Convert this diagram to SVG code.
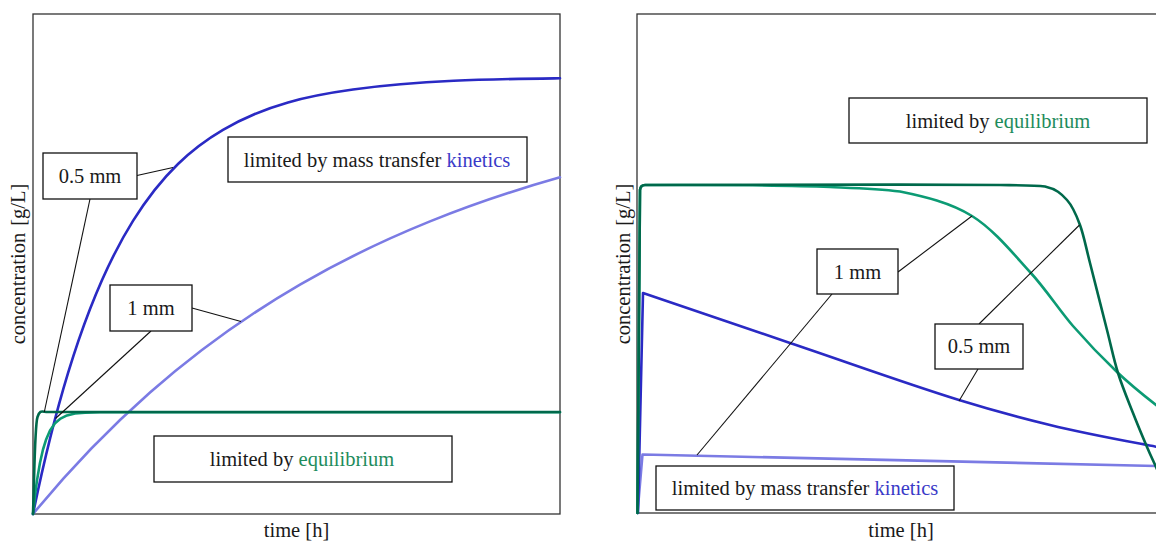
<svg xmlns="http://www.w3.org/2000/svg" width="1156" height="543" viewBox="0 0 1156 543">
<style>
text{font-family:"Liberation Serif","Times New Roman",serif;font-size:20.5px;fill:#1a1a1a}
.frame{fill:none;stroke:#333;stroke-width:1.3}
.box{fill:#fff;stroke:#111;stroke-width:1.3}
.lead{fill:none;stroke:#111;stroke-width:1.1}
.c{fill:none;stroke-width:2.6;stroke-linejoin:round;stroke-linecap:round}
.db{stroke:#2a2ac4}
.lb{stroke:#7b7be4}
.dg{stroke:#00694b}
.mg{stroke:#0c9b74}
.kin{fill:#3a3ac8}
.eq{fill:#1e8c5c}
</style>
<rect width="1156" height="543" fill="#fff"/>

<!-- LEFT PLOT -->
<g id="left-plot">
  <rect class="frame" x="33" y="14" width="527" height="500"/>
  <g id="left-curves">
    <path class="c lb" d="M33,514 C72,466.55 111,426.8 150,392.5 C200,348.55 250,313.6 300,284.6 C343.3,259.5 386.7,238.9 430,221.4 C473.3,203.9 516.7,189.5 560,177.3"/>
    <path class="c db" d="M33,514 C44.67,457.35 56.33,411.6 68,373.2 C89.67,301.9 111.33,255.55 133,220.9 C163,172.9 193,147.5 223,129.9 C266.3,104.4 309.7,95.5 353,89.5 C422,79.9 491,79.2 560,78.25"/>
    <polyline class="c mg" points="33,514 35,495.5 37,480.4 40,462.7 43,449.5 46,439.8 50,430.6 55,423.3 60,418.9 67,415.4 75,413.5 85,412.6 100,412.2 560,412.2"/>
    <path class="c dg" d="M33,514 C34.5,470 34.8,425 37.5,417 S42,412 48,412 L560,412"/>
  </g>
  <text x="296.5" y="537" text-anchor="middle">time [h]</text>
  <text transform="translate(25,264) rotate(-90)" text-anchor="middle">concentration<tspan dx="7">[g/L]</tspan></text>
</g>

<!-- RIGHT PLOT -->
<g id="right-plot">
  <rect class="frame" x="637" y="14" width="528" height="499"/>
  <g id="right-curves">
    <path class="c lb" d="M637.5,513 L642.5,454.5 L1170,466.3"/>
    <path class="c db" d="M638,513 L643,293 C692,309.2 741,326.6 790,343 C846.33,361.9 902.67,382.5 959,400 C989.33,409.4 1019.67,417.6 1050,425 C1085.33,433.7 1120.67,440 1156,446.7 L1170,449"/>
    <path class="c mg" d="M637.5,513 L640,190 Q640.5,185 645,185 C680,185.05 719.17,184.97 750,185.3 C780.83,185.63 805,185.97 830,187 C855,188.03 876.33,188.5 900,191.5 C923.67,196.33 950.33,202.58 972,216 C993.67,229.42 1013.17,253.67 1030,272 C1046.83,290.33 1058.5,309.33 1073,326 C1087.5,342.67 1103.17,358.83 1117,372 C1130.83,385.17 1143,394.83 1156,405 C1169,415.17 1188.5,428.33 1195,433"/>
    <path class="c dg" d="M637.5,513 L640,190 Q640.5,185 645,185 L900,184.6 C960,184.6 985,185 1000,185 C1015,185.25 1034,185.2 1045,186.5 C1056.17,189 1061.17,193.58 1067,200 C1072.83,206.42 1076.17,214.5 1080,225 C1083.83,235.5 1085.5,245.5 1090,263 C1094.5,280.5 1102.33,311.67 1107,330 C1111.67,348.33 1113.67,359.17 1118,373 C1122.33,386.83 1128.17,400.67 1133,413 C1137.83,425.33 1143.17,438 1147,447 C1150.83,456 1153,460.33 1156,467 C1159,473.67 1163.5,483.7 1165,487"/>
  </g>
  <text x="901" y="537" text-anchor="middle">time [h]</text>
  <text transform="translate(630,264) rotate(-90)" text-anchor="middle">concentration<tspan dx="7">[g/L]</tspan></text>
</g>

<!-- CONNECTORS (leader lines) -->
<g id="connectors">
  <line class="lead" x1="137" y1="175.5" x2="173" y2="167.5"/>
  <line class="lead" x1="90" y1="199" x2="44.3" y2="412"/>
  <line class="lead" x1="192" y1="308" x2="241" y2="321.5"/>
  <line class="lead" x1="151" y1="331" x2="55.5" y2="418.5"/>
  <line class="lead" x1="898" y1="272" x2="972" y2="216"/>
  <line class="lead" x1="832" y1="294" x2="697" y2="455"/>
  <line class="lead" x1="979" y1="324" x2="1079.5" y2="225"/>
  <line class="lead" x1="978" y1="369" x2="959" y2="401"/>
</g>

<!-- LABEL NODES -->
<g id="label-left-05mm">
  <rect class="box" x="43" y="153" width="94" height="46"/>
  <text x="90" y="183" text-anchor="middle">0.5 mm</text>
</g>
<g id="label-left-1mm">
  <rect class="box" x="110" y="285" width="82" height="46"/>
  <text x="151" y="315" text-anchor="middle">1 mm</text>
</g>
<g id="label-left-kinetics">
  <rect class="box" x="228" y="137" width="299" height="45"/>
  <text x="377" y="166.5" text-anchor="middle">limited by mass transfer <tspan class="kin">kinetics</tspan></text>
</g>
<g id="label-left-equilibrium">
  <rect class="box" x="154" y="436" width="298" height="46"/>
  <text x="302" y="466" text-anchor="middle">limited by <tspan class="eq">equilibrium</tspan></text>
</g>
<g id="label-right-equilibrium">
  <rect class="box" x="849" y="98" width="298" height="45"/>
  <text x="998" y="128" text-anchor="middle">limited by <tspan class="eq">equilibrium</tspan></text>
</g>
<g id="label-right-1mm">
  <rect class="box" x="817" y="249" width="81" height="45"/>
  <text x="857.5" y="279" text-anchor="middle">1 mm</text>
</g>
<g id="label-right-05mm">
  <rect class="box" x="935" y="324" width="88" height="45"/>
  <text x="979" y="353" text-anchor="middle">0.5 mm</text>
</g>
<g id="label-right-kinetics">
  <rect class="box" x="656" y="466" width="298" height="44"/>
  <text x="805" y="495" text-anchor="middle">limited by mass transfer <tspan class="kin">kinetics</tspan></text>
</g>
</svg>
